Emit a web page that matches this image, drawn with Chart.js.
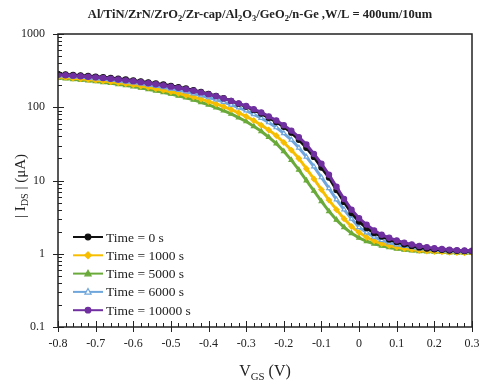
<!DOCTYPE html>
<html>
<head>
<meta charset="utf-8">
<script src="https://cdn.jsdelivr.net/npm/chart.js@4"></script>
<style>
html, body { margin: 0; padding: 0; background: #fff; }
#caixa { width: 480px; height: 383px; position: relative; }
</style>
</head>
<body>
<div id="caixa"><canvas id="grafIds"></canvas></div>
<script>
// VGS sweep (V)
const vgs = [-0.80, -0.78, -0.76, -0.74, -0.72, -0.70, -0.68, -0.66, -0.64, -0.62,
    -0.60, -0.58, -0.56, -0.54, -0.52, -0.50, -0.48, -0.46, -0.44, -0.42,
    -0.40, -0.38, -0.36, -0.34, -0.32, -0.30, -0.28, -0.26, -0.24, -0.22,
    -0.20, -0.18, -0.16, -0.14, -0.12, -0.10, -0.08, -0.06, -0.04, -0.02,
    0.00, 0.02, 0.04, 0.06, 0.08, 0.10, 0.12, 0.14, 0.16, 0.18,
    0.20, 0.22, 0.24, 0.26, 0.28, 0.30];

// |IDS| (uA) for each stress time
const t0 = [285, 281, 276, 272, 267, 262, 257, 251, 245, 239,
    232, 225, 218, 211, 204, 196, 188, 180, 171, 162,
    152, 143, 133, 122, 112, 102, 92, 82, 72, 63,
    54, 45, 36, 28, 21, 15, 11, 7.4, 5.1, 3.6,
    2.75, 2.25, 1.92, 1.72, 1.56, 1.45, 1.35, 1.28, 1.22, 1.18,
    1.15, 1.13, 1.11, 1.10, 1.09, 1.08];
const t1000 = [258, 254, 249, 244, 239, 234, 228, 222, 216, 209,
    202, 195, 187, 179, 171, 163, 155, 146, 138, 129,
    120, 111, 102, 93, 84, 75, 66, 57, 49, 41,
    33, 26, 20, 14.5, 10.5, 7.5, 5.4, 4.0, 3.0, 2.35,
    1.95, 1.68, 1.5, 1.38, 1.29, 1.23, 1.18, 1.14, 1.11, 1.09,
    1.07, 1.06, 1.05, 1.04, 1.03, 1.03];
const t5000 = [250, 246, 241, 236, 231, 225, 219, 213, 206, 199,
    192, 184, 176, 168, 160, 152, 143, 135, 126, 117,
    108, 99, 90, 81, 72, 64, 55, 47, 39, 32,
    25, 19, 14, 10, 7.2, 5.2, 3.8, 2.9, 2.3, 1.9,
    1.65, 1.48, 1.37, 1.28, 1.22, 1.17, 1.13, 1.10, 1.08, 1.07,
    1.06, 1.05, 1.04, 1.03, 1.02, 1.02];
const t6000 = [270, 266, 261, 257, 252, 247, 242, 236, 230, 223,
    217, 210, 202, 195, 187, 179, 171, 163, 154, 145,
    136, 127, 118, 108, 99, 90, 80, 71, 62, 53,
    44, 36, 28, 21, 15.5, 11, 7.8, 5.5, 4.0, 3.0,
    2.3, 1.95, 1.7, 1.53, 1.42, 1.33, 1.27, 1.22, 1.18, 1.15,
    1.12, 1.10, 1.08, 1.07, 1.06, 1.05];
const t10000 = [278, 274, 270, 265, 261, 256, 251, 245, 239, 233,
    227, 220, 213, 206, 199, 191, 184, 176, 168, 159,
    150, 141, 132, 122, 113, 104, 94, 85, 75, 66,
    57, 48, 39, 31, 23, 17, 12, 8.2, 5.6, 4.0,
    3.05, 2.5, 2.08, 1.82, 1.65, 1.52, 1.42, 1.34, 1.28, 1.23,
    1.19, 1.16, 1.14, 1.12, 1.11, 1.10];

const rotulos = ['Time = 0 s', 'Time = 1000 s', 'Time = 5000 s', 'Time = 6000 s', 'Time = 10000 s'];
const yMarcas = [0.1, 1, 10, 100, 1000];
const xMarcas = ['-0.8', '-0.7', '-0.6', '-0.5', '-0.4', '-0.3', '-0.2', '-0.1', '0', '0.1', '0.2', '0.3'];

const FONTE = '"Liberation Serif", "Times New Roman", serif';

function pares(serie) {
    return vgs.map(function(v, i) { return { x: v, y: serie[i] }; });
}

function serieCfg(i, serie, cor, estilo, cheio, ordem) {
    return {
        label: rotulos[i],
        data: pares(serie),
        borderColor: cor,
        backgroundColor: cheio ? cor : '#ffffff',
        pointBackgroundColor: cheio ? cor : '#ffffff',
        pointBorderColor: cor,
        pointStyle: estilo,
        pointRadius: 2.6,
        pointBorderWidth: 1.2,
        borderWidth: 3,
        tension: 0,
        order: ordem
    };
}

// texto com subscritos: partes = [[texto, sub?], ...]
function textoRico(ctx, partes, x, y, tam, negrito) {
    const peso = negrito ? 'bold ' : '';
    let total = 0;
    partes.forEach(function(p) {
        ctx.font = peso + (p[1] ? tam * 0.68 : tam) + 'px ' + FONTE;
        total += ctx.measureText(p[0]).width;
    });
    let cx = x - total / 2;
    ctx.textAlign = 'left';
    ctx.textBaseline = 'middle';
    partes.forEach(function(p) {
        ctx.font = peso + (p[1] ? tam * 0.68 : tam) + 'px ' + FONTE;
        ctx.fillText(p[0], cx, p[1] ? y + tam * 0.3 : y);
        cx += ctx.measureText(p[0]).width;
    });
}

function marca(ctx, estilo, x, y, r, cor, cheio) {
    ctx.save();
    ctx.fillStyle = cheio ? cor : '#ffffff';
    ctx.strokeStyle = cor;
    ctx.lineWidth = 1.2;
    ctx.beginPath();
    if (estilo === 'circle') {
        ctx.arc(x, y, r, 0, Math.PI * 2);
    } else if (estilo === 'rectRot') {
        ctx.moveTo(x, y - r * 1.2); ctx.lineTo(x + r * 1.2, y);
        ctx.lineTo(x, y + r * 1.2); ctx.lineTo(x - r * 1.2, y);
        ctx.closePath();
    } else if (estilo === 'triangle') {
        ctx.moveTo(x, y - r * 1.2); ctx.lineTo(x + r * 1.1, y + r * 0.8);
        ctx.lineTo(x - r * 1.1, y + r * 0.8); ctx.closePath();
    } else {
        ctx.rect(x - r, y - r, r * 2, r * 2);
    }
    ctx.fill();
    ctx.stroke();
    ctx.restore();
}

const extras = {
    id: 'extras',
    afterDraw: function(chart) {
        const ctx = chart.ctx;
        const a = chart.chartArea;
        const sx = chart.scales.x;
        const sy = chart.scales.y;
        ctx.save();
        ctx.strokeStyle = '#222';
        ctx.lineWidth = 1.5;
        ctx.strokeRect(a.left, a.top, a.right - a.left, a.bottom - a.top);

        // marcas do eixo y (log)
        ctx.lineWidth = 1;
        ctx.beginPath();
        [0.1, 1, 10, 100].forEach(function(d) {
            for (let m = 2; m <= 9; m++) {
                const py = Math.round(sy.getPixelForValue(m * d)) + 0.5;
                ctx.moveTo(a.left, py); ctx.lineTo(a.left + 4, py);
            }
        });
        yMarcas.forEach(function(v) {
            const py = Math.round(sy.getPixelForValue(v)) + 0.5;
            ctx.moveTo(a.left - 5, py); ctx.lineTo(a.left + 6, py);
        });
        // marcas do eixo x
        for (let k = 0; k <= 55; k++) {
            const px = Math.round(sx.getPixelForValue(-0.8 + k * 0.02)) + 0.5;
            ctx.moveTo(px, a.bottom); ctx.lineTo(px, a.bottom - 4);
        }
        xMarcas.forEach(function(t) {
            const px = Math.round(sx.getPixelForValue(parseFloat(t))) + 0.5;
            ctx.moveTo(px, a.bottom + 5); ctx.lineTo(px, a.bottom - 6);
        });
        ctx.stroke();

        // legenda
        const ds = chart.data.datasets;
        ds.forEach(function(d, i) {
            const ly = 237 + i * 18.3;
            ctx.strokeStyle = d.borderColor;
            ctx.lineWidth = 2;
            ctx.beginPath();
            ctx.moveTo(73, ly); ctx.lineTo(103, ly);
            ctx.stroke();
            marca(ctx, d.pointStyle, 88, ly, 2.8, d.borderColor, d.pointBackgroundColor !== '#ffffff');
            ctx.fillStyle = '#222';
            ctx.font = '13.5px ' + FONTE;
            ctx.textAlign = 'left';
            ctx.textBaseline = 'middle';
            ctx.fillText(d.label, 106, ly + 1);
        });

        // titulos
        ctx.fillStyle = '#222';
        textoRico(ctx, [['Al/TiN/ZrN/ZrO'], ['2', true], ['/Zr-cap/Al'], ['2', true], ['O'], ['3', true],
            ['/GeO'], ['2', true], ['/n-Ge ,W/L = 400um/10um']], 260, 15, 12.5, true);
        textoRico(ctx, [['V'], ['GS', true], [' (V)']], 265, 372, 16, false);
        ctx.translate(21, 186);
        ctx.rotate(-Math.PI / 2);
        textoRico(ctx, [['| I'], ['DS', true], [' | (\u03bcA)']], 0, 0, 15, false);
        ctx.restore();
    }
};

function iniGraf() {
    const ctx = document.getElementById('grafIds').getContext('2d');
    window.gIds = new Chart(ctx, {
        type: 'line',
        data: {
            datasets: [
                serieCfg(0, t0, '#111111', 'circle', true, 1),
                serieCfg(1, t1000, '#f7be00', 'rectRot', true, 3),
                serieCfg(2, t5000, '#6aaa3a', 'triangle', true, 4),
                serieCfg(3, t6000, '#6fa6dc', 'triangle', false, 2),
                serieCfg(4, t10000, '#7030a0', 'circle', true, 0)
            ]
        },
        options: {
            responsive: true,
            maintainAspectRatio: false,
            animation: false,
            layout: { padding: { top: 34, right: 8, left: 0, bottom: 0 } },
            plugins: {
                legend: { display: false },
                title: { display: false },
                tooltip: { enabled: false }
            },
            scales: {
                x: {
                    type: 'linear',
                    min: -0.8,
                    max: 0.3,
                    grid: { display: false, drawTicks: false },
                    border: { display: false },
                    afterBuildTicks: function(s) {
                        s.ticks = xMarcas.map(function(t) { return { value: parseFloat(t) }; });
                    },
                    afterFit: function(s) {
                        s.height = 56;
                        s.paddingLeft = 0;
                        s.paddingRight = 0;
                    },
                    ticks: {
                        padding: 10,
                        maxRotation: 0,
                        autoSkip: false,
                        color: '#222',
                        font: { family: FONTE, size: 12 },
                        callback: function(v) { return xMarcas[Math.round((v + 0.8) * 10)]; }
                    }
                },
                y: {
                    type: 'logarithmic',
                    min: 0.1,
                    max: 1000,
                    grid: { display: false, drawTicks: false },
                    border: { display: false },
                    afterBuildTicks: function(s) {
                        s.ticks = yMarcas.map(function(v) { return { value: v }; });
                    },
                    afterFit: function(s) {
                        s.width = 58;
                        s.paddingTop = 0;
                        s.paddingBottom = 0;
                    },
                    ticks: {
                        padding: 13,
                        color: '#222',
                        font: { family: FONTE, size: 12 },
                        callback: function(v) { return String(v); }
                    }
                }
            }
        },
        plugins: [extras]
    });
}

document.addEventListener('DOMContentLoaded', iniGraf);
</script>
</body>
</html>
